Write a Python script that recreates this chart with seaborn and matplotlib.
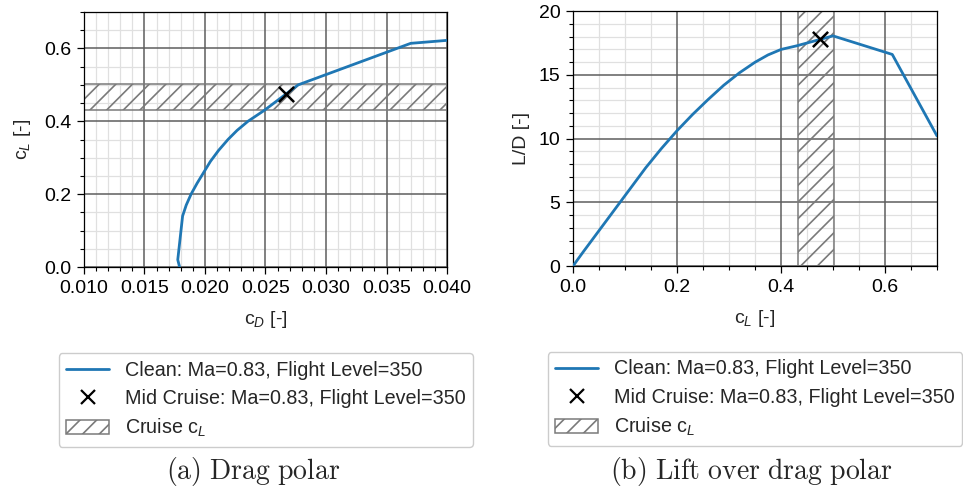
import numpy as np
import pandas as pd
import matplotlib
matplotlib.use("Agg")
import matplotlib.pyplot as plt
from matplotlib.ticker import MultipleLocator, AutoMinorLocator, FormatStrFormatter
from matplotlib.lines import Line2D
from matplotlib.patches import Patch
import seaborn as sns

# Clean-configuration polar at Ma=0.83, FL350
cl_values = [0.000, 0.020, 0.140, 0.170, 0.200, 0.230, 0.260, 0.290, 0.320, 0.350,
             0.375, 0.400, 0.430, 0.500, 0.614, 0.700]
cd_values = [0.01790, 0.01775, 0.01815, 0.01845, 0.01885, 0.01935, 0.01990, 0.02045,
             0.02112, 0.02190, 0.02265, 0.02355, 0.02490, 0.02770, 0.03700, 0.06860]

# Mid-cruise operating point
mid_cl = [0.475]
mid_cd = [0.02670]

# Cruise lift-coefficient band
cruise_cl_band = [0.432, 0.502]

legend_labels = ["Clean: Ma=0.83, Flight Level=350",
                 "Mid Cruise: Ma=0.83, Flight Level=350",
                 "Cruise c$_L$"]
captions = [r"$\mathrm{(a)\ Drag\ polar}$", r"$\mathrm{(b)\ Lift\ over\ drag\ polar}$"]
x1_ticklabels = ["0.010", "0.015", "0.020", "0.025", "0.030", "0.035", "0.040"]

polar = pd.DataFrame({"cL": cl_values, "cD": cd_values})
polar["LD"] = np.where(polar["cL"] > 0, polar["cL"] / polar["cD"], 0.0)
mid = pd.DataFrame({"cL": mid_cl, "cD": mid_cd})
mid["LD"] = mid["cL"] / mid["cD"]

sns.set_theme(style="ticks")
plt.rcParams["font.family"] = ["Liberation Sans", "DejaVu Sans"]
plt.rcParams["mathtext.fontset"] = "custom"
plt.rcParams["mathtext.rm"] = "Liberation Sans"
plt.rcParams["mathtext.it"] = "Liberation Sans:italic"
plt.rcParams["axes.edgecolor"] = "black"
plt.rcParams["axes.linewidth"] = 0.9

FS_TICK = 14.0
FS_LEG = 14.2
blue = "#1f77b4"
hatch_gray = "#7a7a7a"
plt.rcParams["hatch.color"] = hatch_gray
plt.rcParams["hatch.linewidth"] = 1.2

fig = plt.figure(figsize=(9.63, 4.92), dpi=100)
pos1 = [0.0872, 0.4573, 0.3770, 0.5183]
pos2 = [0.5950, 0.4593, 0.3780, 0.5183]


def make_axes(pos, xlim, ylim, xmaj, xdiv, ymaj, ydiv):
    # background axes carrying only the fine grid, so the coarse grid sits on top
    bg = fig.add_axes(pos, zorder=0)
    ax = fig.add_axes(pos, zorder=1)
    for a in (bg, ax):
        a.set_xlim(*xlim)
        a.set_ylim(*ylim)
        a.xaxis.set_major_locator(MultipleLocator(xmaj))
        a.xaxis.set_minor_locator(AutoMinorLocator(xdiv))
        a.yaxis.set_major_locator(MultipleLocator(ymaj))
        a.yaxis.set_minor_locator(AutoMinorLocator(ydiv))
    bg.set_facecolor("white")
    bg.grid(which="minor", color="#e0e0e0", linewidth=0.9, linestyle="-")
    bg.grid(which="major", visible=False)
    bg.tick_params(which="both", length=0, labelbottom=False, labelleft=False)
    for s in bg.spines.values():
        s.set_visible(False)
    ax.patch.set_visible(False)
    ax.grid(which="major", color="#5e5e5e", linewidth=1.1, linestyle="-")
    ax.set_axisbelow(True)
    ax.tick_params(which="major", direction="out", length=5, width=0.9,
                   labelsize=FS_TICK, color="black", labelcolor="black", pad=4)
    ax.tick_params(which="minor", direction="out", length=3, width=0.8, color="black")
    for s in ax.spines.values():
        s.set_visible(True)
        s.set_color("black")
    return ax


ax1 = make_axes(pos1, (0.010, 0.040), (0.0, 0.7), 0.005, 5, 0.2, 4)
ax2 = make_axes(pos2, (0.0, 0.7), (0, 20), 0.2, 4, 5, 5)

# (a) drag polar
ax1.axhspan(cruise_cl_band[0], cruise_cl_band[1], facecolor="none",
            edgecolor=hatch_gray, hatch="//", linewidth=1.1, zorder=1)
sns.lineplot(data=polar, x="cD", y="cL", sort=False, estimator=None, color=blue,
             linewidth=2.0, ax=ax1, zorder=3)
sns.scatterplot(data=mid, x="cD", y="cL", marker="x", color="black", s=120,
                linewidth=1.8, ax=ax1, zorder=4)
ax1.set_xlim(0.010, 0.040)
ax1.set_ylim(0.0, 0.7)
ax1.set_xticks([float(t) for t in x1_ticklabels])
ax1.set_xticklabels(x1_ticklabels)
ax1.yaxis.set_major_formatter(FormatStrFormatter("%.1f"))
ax1.set_xlabel("c$_D$ [-]", fontsize=FS_TICK, labelpad=9)
ax1.set_ylabel("c$_L$ [-]", fontsize=FS_TICK, labelpad=8)

# (b) lift over drag
ax2.axvspan(cruise_cl_band[0], cruise_cl_band[1], facecolor="none",
            edgecolor=hatch_gray, hatch="//", linewidth=1.1, zorder=1)
sns.lineplot(data=polar, x="cL", y="LD", sort=False, estimator=None, color=blue,
             linewidth=2.0, ax=ax2, zorder=3)
sns.scatterplot(data=mid, x="cL", y="LD", marker="x", color="black", s=120,
                linewidth=1.8, ax=ax2, zorder=4)
ax2.set_xlim(0.0, 0.7)
ax2.set_ylim(0, 20)
ax2.xaxis.set_major_formatter(FormatStrFormatter("%.1f"))
ax2.set_xlabel("c$_L$ [-]", fontsize=FS_TICK, labelpad=9)
ax2.set_ylabel("L/D [-]", fontsize=FS_TICK, labelpad=6)


# Legends below each panel
def add_legend(ax, cx, top):
    handles = [
        Line2D([], [], color=blue, linewidth=2.0),
        Line2D([], [], color="black", marker="x", linestyle="none", markersize=10,
               markeredgewidth=1.6),
        Patch(facecolor="none", edgecolor=hatch_gray, hatch="//", linewidth=1.1),
    ]
    leg = ax.legend(handles, legend_labels, loc="upper center",
                    bbox_to_anchor=(cx, top), bbox_transform=fig.transFigure,
                    borderaxespad=0, fontsize=FS_LEG, frameon=True, fancybox=True,
                    edgecolor="#cccccc", framealpha=1.0, handlelength=2.2,
                    handletextpad=0.8, labelspacing=0.47, borderpad=0.38)
    leg.get_frame().set_linewidth(1.0)
    return leg


add_legend(ax1, 0.2762, 0.2825)
add_legend(ax2, 0.7840, 0.2846)

for x, text in zip([0.2627, 0.7800], captions):
    fig.text(x, 0.042, text, ha="center", va="center", fontsize=20,
             math_fontfamily="cm")

fig.savefig("out.png", dpi=100)
